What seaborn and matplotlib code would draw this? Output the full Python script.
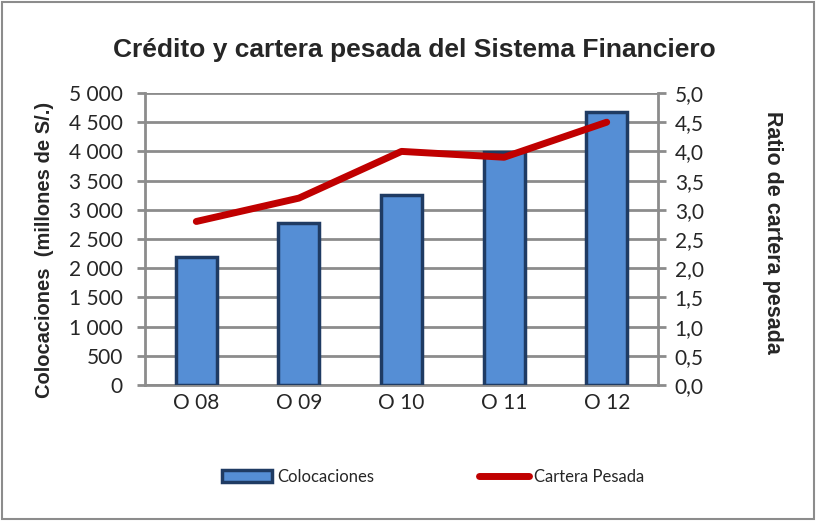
import matplotlib
matplotlib.use("Agg")
import matplotlib.pyplot as plt
import seaborn as sns
import pandas as pd
from matplotlib.patches import Rectangle
from matplotlib.lines import Line2D

categories = ["O 08", "O 09", "O 10", "O 11", "O 12"]
colocaciones = [2200, 2770, 3260, 3990, 4670]
cartera_pesada = [2.8, 3.2, 4.0, 3.9, 4.5]
left_ticks = [0, 500, 1000, 1500, 2000, 2500, 3000, 3500, 4000, 4500, 5000]
right_ticks = [0.0, 0.5, 1.0, 1.5, 2.0, 2.5, 3.0, 3.5, 4.0, 4.5, 5.0]

sns.set_style("white")
plt.rcParams['font.family'] = ['Lato', 'DejaVu Sans']
BOLD = ['Liberation Sans', 'DejaVu Sans']

df = pd.DataFrame({"cat": categories, "col": colocaciones, "cp": cartera_pesada})

fig = plt.figure(figsize=(8.16, 5.21), dpi=100)
ax = fig.add_axes([145/816, 1-385/521, (658-145)/816, (385-93)/521])

sns.barplot(data=df, x="cat", y="col", ax=ax, color="#558ED5", width=0.4,
            edgecolor="#1F3B63", linewidth=2.5, saturation=1, zorder=3)
ax.set_ylim(0, 5000)
ax.set_xlim(-0.5, 4.5)
ax.set_yticks(left_ticks)
ax.set_yticklabels([f"{v:,}".replace(",", " ") for v in left_ticks], fontsize=15)
ax.yaxis.grid(True, color="#8C8C8C", linewidth=2, zorder=0)
ax.set_axisbelow(True)
ax.set_xlabel("")
ax.set_ylabel("Colocaciones  (millones de S/.)", fontsize=14.5, fontweight="bold", family=BOLD,
              va="center")
ax.yaxis.set_label_coords(-0.195, 0.462)
ax.tick_params(axis="x", labelsize=15, length=0, pad=6)
ax.tick_params(axis="y", direction="out", length=6, width=2, color="#8C8C8C", pad=10, left=True)
for s in ["left", "bottom", "right"]:
    ax.spines[s].set_color("#8C8C8C")
    ax.spines[s].set_linewidth(2)
ax.spines["top"].set_visible(False)

ax2 = ax.twinx()
sns.lineplot(x=list(range(len(categories))), y=cartera_pesada, ax=ax2, color="#C00000",
             linewidth=5, solid_capstyle="round", zorder=5)
ax2.set_ylim(0, 5)
ax2.set_yticks(right_ticks)
ax2.set_yticklabels([f"{v:.1f}".replace(".", ",") for v in right_ticks], fontsize=15)
ax2.tick_params(axis="y", direction="out", length=6, width=2, color="#8C8C8C", pad=6, right=True)
ax2.set_ylabel("Ratio de cartera pesada", fontsize=15.5, fontweight="bold", family=BOLD,
               rotation=270, va="center")
ax2.yaxis.set_label_coords(1.224, 0.524)
for s in ["left", "bottom", "right", "top"]:
    ax2.spines[s].set_visible(False)
ax2.grid(False)

fig.text(0.508, 1-50/521, "Crédito y cartera pesada del Sistema Financiero", fontsize=19,
         fontweight="bold", family=BOLD, ha="center", va="center")

handles = [Rectangle((0, 0), 1, 1, facecolor="#558ED5", edgecolor="#1F3B63", linewidth=2.5),
           Line2D([0], [0], color="#C00000", linewidth=5, solid_capstyle="round")]
fig.legend(handles, ["Colocaciones", "Cartera Pesada"], loc="center", bbox_to_anchor=(0.531, 1-477/521),
           ncol=2, frameon=False, fontsize=12, columnspacing=6.3, handlelength=3.0, handletextpad=0.3)

border = Rectangle((0.003, 0.003), 0.994, 0.994, transform=fig.transFigure, fill=False,
                   edgecolor="#8C8C8C", linewidth=1.5)
fig.patches.append(border)

fig.savefig("out.png", dpi=100)
